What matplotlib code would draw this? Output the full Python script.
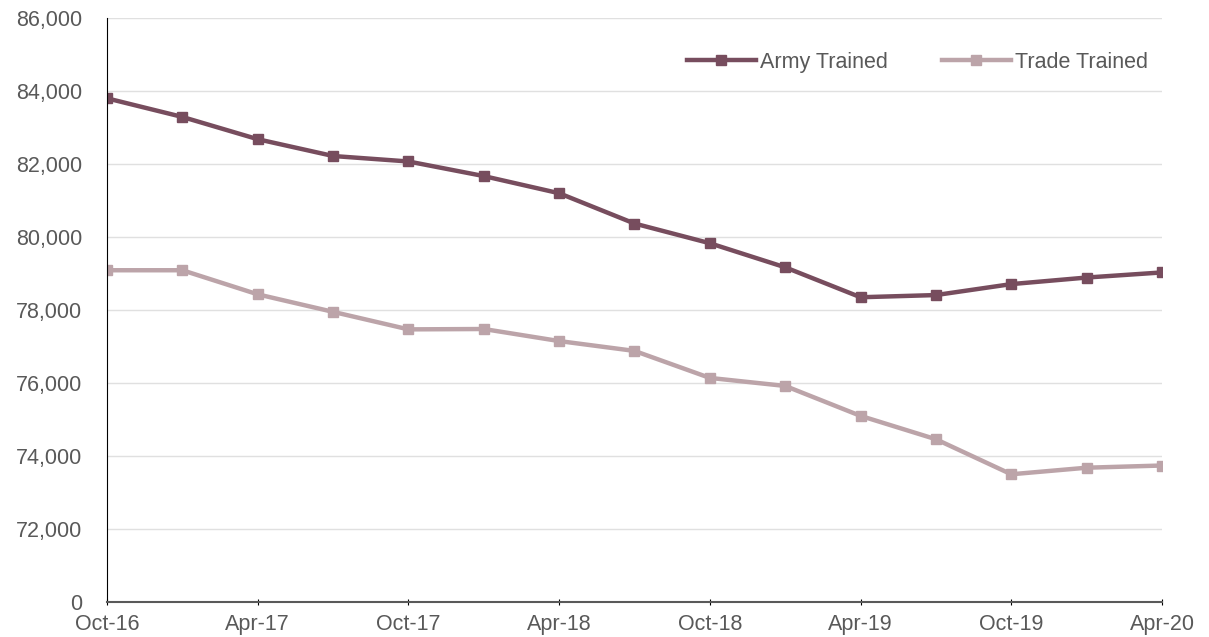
import matplotlib
matplotlib.use('Agg')
import matplotlib.pyplot as plt

plt.rcParams['font.family'] = ['Liberation Sans', 'DejaVu Sans']

# quarterly points, Oct-16 .. Apr-20
months = ['Oct-16', 'Jan-17', 'Apr-17', 'Jul-17', 'Oct-17', 'Jan-18', 'Apr-18', 'Jul-18',
          'Oct-18', 'Jan-19', 'Apr-19', 'Jul-19', 'Oct-19', 'Jan-20', 'Apr-20']
army_trained = [83800, 83290, 82680, 82220, 82070, 81670, 81200, 80370,
                79830, 79170, 78350, 78410, 78710, 78890, 79030]
trade_trained = [79090, 79090, 78430, 77950, 77470, 77480, 77150, 76880,
                 76140, 75920, 75100, 74460, 73500, 73680, 73740]

# y axis is broken: bottom labelled 0, then 72,000 upward
y_ticks = [70000, 72000, 74000, 76000, 78000, 80000, 82000, 84000, 86000]
y_labels = ['0', '72,000', '74,000', '76,000', '78,000', '80,000', '82,000', '84,000', '86,000']

x = list(range(len(months)))

fig = plt.figure(figsize=(12.09, 6.37), dpi=100)
ax = fig.add_axes([0.0885, 0.0549, 0.8726, 0.9168])

ax.plot(x, army_trained, color='#774d5e', lw=3.2, marker='s', ms=7.5, label='Army Trained')
ax.plot(x, trade_trained, color='#bca4a9', lw=3.2, marker='s', ms=7.5, label='Trade Trained')

ax.set_xlim(0, len(months) - 1)
ax.set_ylim(70000, 86000)
ax.set_yticks(y_ticks)
ax.set_yticklabels(y_labels)
ax.set_xticks(x[::2])
ax.set_xticklabels(months[::2])

ax.grid(axis='y', color='#e0e0e0', lw=1)
ax.set_axisbelow(True)
for s in ['top', 'right']:
    ax.spines[s].set_visible(False)
ax.spines['left'].set_color('black')
ax.spines['bottom'].set_color('#595959')
ax.spines['bottom'].set_linewidth(1.5)

ax.tick_params(axis='y', length=0, pad=18, labelsize=15.5, labelcolor='#595959')
ax.tick_params(axis='x', length=5, direction='inout', color='black', pad=6,
               labelsize=15.5, labelcolor='#595959')
for lbl in ax.get_xticklabels():
    lbl.set_clip_on(False)

ax.legend(loc='upper right', bbox_to_anchor=(1.005, 0.975), ncol=2, frameon=False,
          fontsize=15.5, labelcolor='#595959', handlelength=3.2, handletextpad=0.2,
          columnspacing=2.5)

fig.savefig('out.png', dpi=100)
